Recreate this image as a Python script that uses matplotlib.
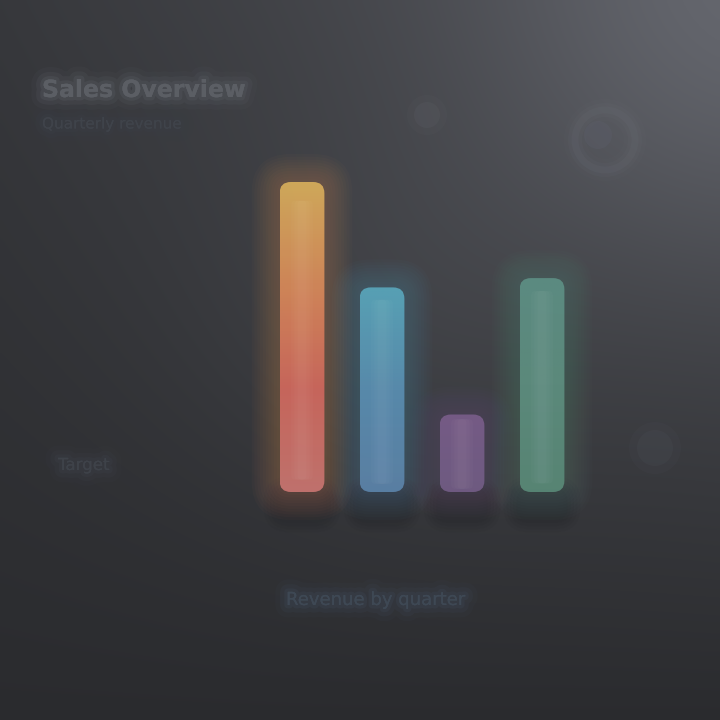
#!/usr/bin/env python3
"""
Dark dashboard style bar chart with glowing gradient bars
"""

import numpy as np
import matplotlib
matplotlib.use('Agg')
import matplotlib.pyplot as plt
import matplotlib.patheffects as pe
from matplotlib.patches import FancyBboxPatch
from matplotlib.colors import LinearSegmentedColormap

# data
categories = ['Q1', 'Q2', 'Q3', 'Q4']
values = [100, 66, 25, 69]
bar_colors = [
    ['#c97672', '#d0685e', '#d98a5a', '#d8b05c'],   # coral -> yellow
    ['#5d84aa', '#5a8fb2', '#5aa8bc'],              # blue -> cyan
    ['#735d86', '#7a5e8a'],                         # purple
    ['#5a8a78', '#5e8f80', '#5f8f86'],              # green
]
title_text = 'Sales Overview'
subtitle_text = 'Quarterly revenue'
xlabel_text = 'Revenue by quarter'

# px per data unit (x: 80 px, y: 3.1 px) -> keeps corners round
ASPECT = 80 / 3.1


def background(ax):
    """深色渐变背景"""
    yy, xx = np.mgrid[0:1:200j, 0:1:200j]
    base = 0.17 + 0.10 * xx * (1 - yy) + 0.05 * (1 - yy)
    spot = 0.08 * np.exp(-((xx - 1.0) ** 2 + (yy - 0.05) ** 2) / 0.12)
    mid = 0.025 * np.exp(-((xx - 0.55) ** 2 + (yy - 0.45) ** 2) / 0.08)
    lum = base + spot + mid
    img = np.dstack([lum * 0.98, lum * 1.0, lum * 1.07])
    ax.imshow(np.clip(img, 0, 1), extent=(0, 720, 720, 0), aspect='auto',
              interpolation='bicubic', zorder=0)
    ax.set_xlim(0, 720)
    ax.set_ylim(720, 0)
    ax.axis('off')


def soft_text(ax, x, y, s, color, size, glow, weight='normal', alpha=0.8):
    ax.text(x, y, s, color=color, fontsize=size, weight=weight, alpha=alpha,
            va='center', ha='left', family='DejaVu Sans', zorder=2,
            path_effects=[pe.withStroke(linewidth=18, foreground=glow, alpha=0.15),
                          pe.withStroke(linewidth=11, foreground=glow, alpha=0.3),
                          pe.withStroke(linewidth=5, foreground=glow, alpha=0.5),
                          pe.Normal()])


def rounded(ax, x0, y0, w, h, r, **kw):
    p = FancyBboxPatch((x0, y0), w, h, boxstyle=f'round,pad=0,rounding_size={r}',
                       mutation_aspect=ASPECT, **kw)
    ax.add_patch(p)
    return p


fig = plt.figure(figsize=(7.2, 7.2), dpi=100)
ax_bg = fig.add_axes([0, 0, 1, 1])
background(ax_bg)

# 模糊的标题区域
soft_text(ax_bg, 42, 90, title_text, '#5c5f65', 17, '#4e5157', weight='bold')
soft_text(ax_bg, 42, 124, subtitle_text, '#40444b', 11, '#393c43')
soft_text(ax_bg, 58, 465, 'Target', '#3f434a', 12, '#383b42')
soft_text(ax_bg, 286, 600, xlabel_text, '#3f4955', 13, '#383f4a')

# 模糊的图标
for lw, a in [(16, 0.06), (10, 0.1), (5, 0.15)]:
    ax_bg.add_patch(plt.Circle((605, 140), 30, facecolor='none',
                               edgecolor='#6c7078', lw=lw, alpha=a, zorder=1))
ax_bg.add_patch(plt.Circle((598, 135), 14, facecolor='#5f6170', lw=0,
                           alpha=0.25, zorder=1))
for r, a in [(20, 0.08), (13, 0.15)]:
    ax_bg.add_patch(plt.Circle((427, 115), r, facecolor='#666a72', lw=0,
                               alpha=a, zorder=1))
for r, a in [(26, 0.08), (18, 0.12)]:
    ax_bg.add_patch(plt.Circle((655, 448), r, facecolor='#5a5e68', lw=0,
                               alpha=a, zorder=1))

# 柱状图区域
ax = fig.add_axes([250 / 720, 1 - 492 / 720, 340 / 720, 341 / 720])
ax.set_xlim(-0.65, 3.6)
ax.set_ylim(0, 110)
ax.axis('off')
ax.patch.set_alpha(0)

x = np.arange(len(categories))
width = 0.56
bars = ax.bar(x, values, width=width, color='none', linewidth=0, zorder=3)

for i, b in enumerate(bars):
    x0, w, h = b.get_x(), b.get_width(), b.get_height()
    mid = bar_colors[i][len(bar_colors[i]) // 2]
    # 阴影
    for k in range(5):
        pw = 0.04 * (k + 1)
        rounded(ax, x0 - pw, -9 - k, w + 2 * pw, 10 + 2 * k, 0.12 + pw,
                facecolor='#1b1d21', alpha=0.06, lw=0, clip_on=False, zorder=1)
    # glow layers
    for k in range(10):
        pw = 0.035 * (k + 1)
        ph = pw * ASPECT
        rounded(ax, x0 - pw, -ph, w + 2 * pw, h + 2 * ph, 0.14 + pw,
                facecolor=mid, alpha=0.03, lw=0, clip_on=False, zorder=2)
    clip = rounded(ax, x0, 0, w, h, 0.14, facecolor='none', lw=0, zorder=3)
    cmap = LinearSegmentedColormap.from_list(f'c{i}', bar_colors[i])
    grad = np.linspace(0, 1, 256).reshape(-1, 1)
    im = ax.imshow(grad, cmap=cmap, origin='lower', aspect='auto',
                   extent=(x0, x0 + w, 0, h), zorder=3, alpha=0.92)
    im.set_clip_path(clip)
    # soft highlight along the centre
    for k in range(3):
        rounded(ax, x[i] - w * (0.1 + 0.07 * k), h * 0.04, w * (0.2 + 0.14 * k),
                h * 0.9, 0.05, facecolor='white', alpha=0.025, lw=0, zorder=4)

ax.set_xlim(-0.65, 3.6)
ax.set_ylim(0, 110)

fig.savefig('out.png', dpi=100)
plt.close(fig)
